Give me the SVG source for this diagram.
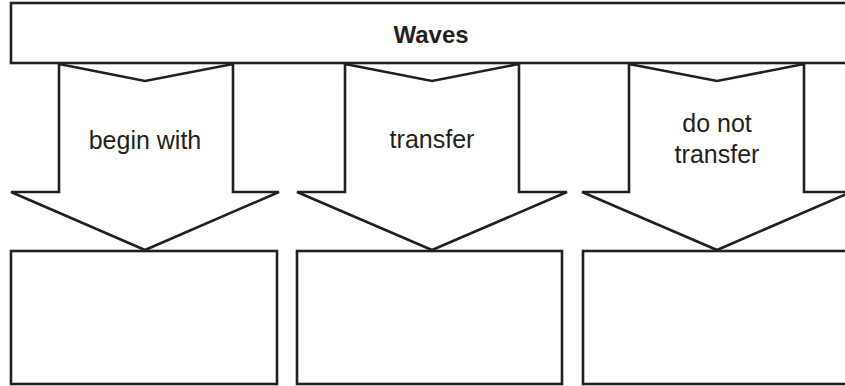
<svg xmlns="http://www.w3.org/2000/svg" width="845" height="386" viewBox="0 0 845 386">
<style>
.s{fill:#fff;stroke:#231f20;stroke-width:2.6;stroke-linejoin:miter}
.t{font-family:"Liberation Sans",Arial,sans-serif;font-size:25px;fill:#231f20;text-anchor:middle}
.b{font-weight:bold;font-size:24px}
</style>
<rect width="845" height="386" fill="#fff"/>
<g id="waves">
<rect class="s" x="11" y="3" width="850" height="60"/>
<text class="t b" x="431" y="43">Waves</text>
</g>
<g id="connectors">
<g id="arrow1">
<polygon class="s" points="59,64 145,81 233,64 233,192 279,192 145,250 11,192 59,192"/>
<text class="t" x="145" y="149">begin with</text>
</g>
<g id="arrow2">
<polygon class="s" points="345,64 432,81 519,64 519,192 567,192 432,250 297,192 345,192"/>
<text class="t" x="432" y="148">transfer</text>
</g>
<g id="arrow3">
<polygon class="s" points="629,64 717,81 804,64 804,192 851,192 717,250 582,192 629,192"/>
<text class="t" x="717" y="132">do not</text>
<text class="t" x="717" y="163">transfer</text>
</g>
</g>
<g id="box1"><rect class="s" x="11" y="251" width="266" height="133"/></g>
<g id="box2"><rect class="s" x="297" y="251" width="265" height="133"/></g>
<g id="box3"><rect class="s" x="583" y="251" width="270" height="133"/></g>
</svg>
